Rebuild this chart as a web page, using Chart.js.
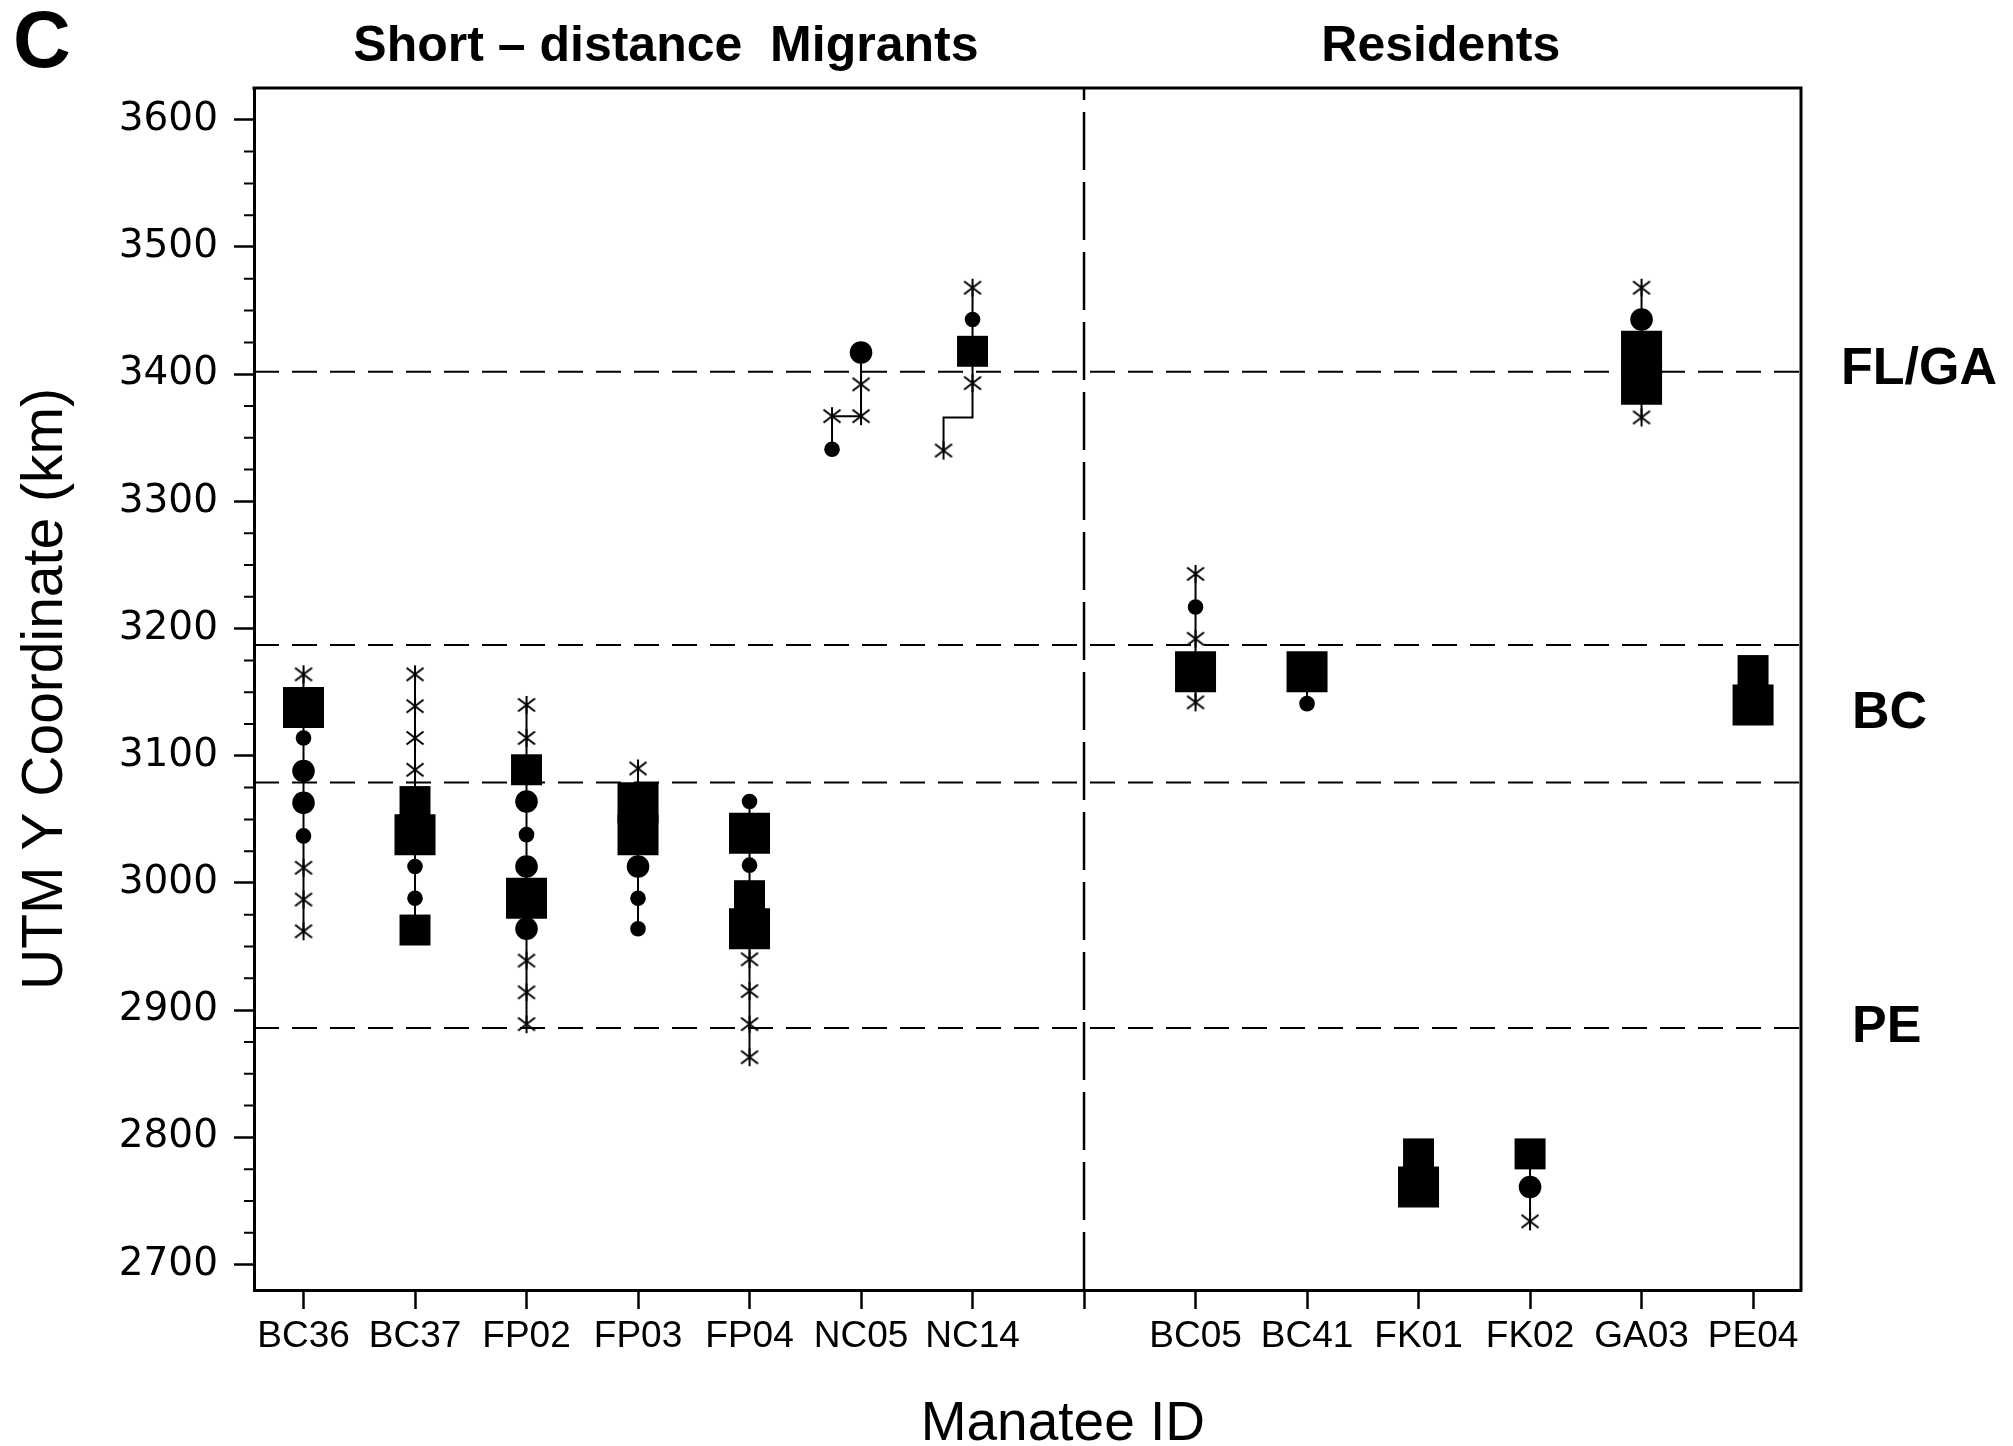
<!DOCTYPE html>
<html lang="en">
<head>
<meta charset="utf-8">
<title>UTM Y coordinate by manatee</title>
<script src="https://cdn.jsdelivr.net/npm/chart.js@4.4.1/dist/chart.umd.min.js"></script>
<style>
  html, body { margin: 0; padding: 0; background: #fff; }
  #wrap { width: 2013px; height: 1446px; }
</style>
</head>
<body>
<div id="wrap"><canvas id="utm" width="2013" height="1446"></canvas></div>
<script>
// slot 7 is left empty: it is where the two groups are split
var ids = ['BC36', 'BC37', 'FP02', 'FP03', 'FP04', 'NC05', 'NC14', '',
           'BC05', 'BC41', 'FK01', 'FK02', 'GA03', 'PE04'];
var yTicks = [2700, 2800, 2900, 3000, 3100, 3200, 3300, 3400, 3500, 3600];
var groups = ['Short \u2013 distance  Migrants', 'Residents'];

// [slot, UTM Y in km]
var stars = [
  [0, 3164], [0, 3012], [0, 2987], [0, 2962],
  [1, 3164], [1, 3139], [1, 3114], [1, 3089],
  [2, 3140], [2, 3114], [2, 2939], [2, 2914], [2, 2889],
  [3, 3090],
  [4, 2940], [4, 2915], [4, 2889], [4, 2863],
  [5, 3392], [5, 3367], [4.74, 3367],
  [6, 3468], [6, 3393], [5.74, 3340],
  [8, 3243], [8, 3192], [8, 3142],
  [11, 2734],
  [12, 3468], [12, 3366]
];
var smallDots = [
  [0, 3114], [0, 3037], [1, 3013], [1, 2988], [2, 3038], [3, 2988], [3, 2964],
  [4, 3064], [4, 3014], [4.74, 3341], [6, 3443], [8, 3217], [9, 3141]
];
var bigDots = [
  [0, 3088], [0, 3063], [2, 3064], [2, 3013], [2, 2964], [3, 3013],
  [5, 3417], [11, 2761], [12, 3443]
];
var smallBoxes = [
  [1, 3064], [1, 2963], [2, 3089], [4, 2990], [6, 3418], [10, 2787], [11, 2787], [13, 3167]
];
var bigBoxes = [
  [0, 3138], [1, 3038], [2, 2988], [3, 3063], [3, 3038], [4, 3039], [4, 2964],
  [8, 3166], [9, 3166], [10, 2761], [12, 3418], [12, 3392], [13, 3140]
];
// corners of the NC14 track that carry no symbol
var bends = [[6, 3366], [5.74, 3366]];

// region boundaries (km) and their names
var zones = [3402, 3187, 3079, 2886];
var zoneNames = ['FL/GA', 'BC', 'PE'];

var X_MIN = -0.444, X_MAX = 13.43, Y_MIN = 2680, Y_MAX = 3625;

function pts(list) {
  return list.map(function (p) { return { x: p[0], y: p[1] }; });
}

// asterisk: an X with a vertical bar through it
function asterisk() {
  var c = document.createElement('canvas');
  c.width = 20; c.height = 20;
  var g = c.getContext('2d');
  g.strokeStyle = '#000';
  g.lineWidth = 2;
  g.beginPath();
  g.moveTo(1.5, 3.5); g.lineTo(18.5, 16.5);
  g.moveTo(1.5, 16.5); g.lineTo(18.5, 3.5);
  g.moveTo(10, 1); g.lineTo(10, 19);
  g.stroke();
  return c;
}

// one connecting track per animal, top to bottom
var allPts = stars.concat(smallDots, bigDots, smallBoxes, bigBoxes, bends);
var tracks = ids.map(function (id, slot) {
  return allPts.filter(function (p) { return Math.round(p[0]) === slot; })
    .sort(function (a, b) { return b[1] - a[1] || b[0] - a[0]; });
}).filter(function (t) { return t.length > 1; });

var datasets = [];

function marks(list, style, r) {
  datasets.push({
    data: pts(list), order: 0, showLine: false,
    pointStyle: style, pointRadius: r, pointHoverRadius: r,
    pointBackgroundColor: '#000', pointBorderWidth: 0
  });
}
marks(bigBoxes, 'rect', 29);
marks(smallBoxes, 'rect', 21.9);
marks(bigDots, 'circle', 11.3);
marks(smallDots, 'circle', 7.8);
marks(stars, asterisk(), 9);

tracks.forEach(function (t) {
  datasets.push({
    data: pts(t), order: 1, showLine: true, pointRadius: 0,
    borderColor: '#000', borderWidth: 2
  });
});

zones.forEach(function (v) {
  datasets.push({
    data: [{ x: X_MIN, y: v }, { x: X_MAX, y: v }], order: 2, showLine: true,
    pointRadius: 0, borderColor: '#000', borderWidth: 2, borderDash: [25, 13]
  });
});

// divider between migrants and residents
datasets.push({
  data: [{ x: 7, y: Y_MIN }, { x: 7, y: Y_MAX }], order: 2, showLine: true,
  pointRadius: 0, borderColor: '#000', borderWidth: 2.5, borderDash: [58, 12]
});

var decor = {
  id: 'decor',
  afterDraw: function (chart) {
    var ctx = chart.ctx, a = chart.chartArea;
    var xs = chart.scales.x, ys = chart.scales.y;
    ctx.save();
    ctx.strokeStyle = '#000';
    ctx.fillStyle = '#000';

    // close the frame
    ctx.lineWidth = 3;
    ctx.beginPath();
    ctx.moveTo(a.left - 1.5, a.top);
    ctx.lineTo(a.right, a.top);
    ctx.lineTo(a.right, a.bottom + 1.5);
    ctx.stroke();

    // minor ticks every 25 km
    ctx.lineWidth = 2;
    ctx.beginPath();
    for (var v = yTicks[0] + 25; v < yTicks[yTicks.length - 1]; v += 25) {
      if (v % 100 === 0) continue;
      var py = ys.getPixelForValue(v);
      ctx.moveTo(a.left - 10, py);
      ctx.lineTo(a.left, py);
    }
    ctx.stroke();

    ctx.textBaseline = 'alphabetic';
    ctx.textAlign = 'left';
    ctx.font = 'bold 80px "Liberation Sans", Arial, sans-serif';
    ctx.fillText('C', 13, 67);

    ctx.textAlign = 'center';
    ctx.font = 'bold 50px "Liberation Sans", Arial, sans-serif';
    ctx.fillText(groups[0], xs.getPixelForValue(3.25), 61);
    ctx.fillText(groups[1], xs.getPixelForValue(10.2), 61);

    ctx.font = '55px "Liberation Sans", Arial, sans-serif';
    ctx.fillText('Manatee ID', xs.getPixelForValue(6.81), 1440);

    ctx.textAlign = 'left';
    ctx.textBaseline = 'middle';
    ctx.font = 'bold 52px "Liberation Sans", Arial, sans-serif';
    ctx.fillText(zoneNames[0], a.right + 40, ys.getPixelForValue(zones[0]) - 2);
    ctx.fillText(zoneNames[1], a.right + 51, ys.getPixelForValue((zones[1] + zones[2]) / 2));
    ctx.fillText(zoneNames[2], a.right + 51, ys.getPixelForValue(zones[3]));
    ctx.restore();
  }
};

new Chart(document.getElementById('utm'), {
  type: 'scatter',
  data: { datasets: datasets },
  plugins: [decor],
  options: {
    responsive: false,
    animation: false,
    events: [],
    layout: { padding: { top: 88, right: 212, left: 0, bottom: 0 } },
    plugins: { legend: { display: false }, tooltip: { enabled: false } },
    scales: {
      x: {
        type: 'linear', min: X_MIN, max: X_MAX,
        afterFit: function (s) { s.height = 156; },
        afterBuildTicks: function (s) {
          s.ticks = ids.map(function (id, i) { return { value: i }; });
        },
        ticks: {
          autoSkip: false, maxRotation: 0, padding: 6, color: '#000',
          font: { family: '"Liberation Sans", Arial, sans-serif', size: 37 },
          callback: function (v) { return ids[v] || ''; }
        },
        grid: {
          drawOnChartArea: false, drawTicks: true, tickLength: 19,
          tickColor: '#000', tickWidth: 2.5
        },
        border: { display: true, color: '#000', width: 3 }
      },
      y: {
        type: 'linear', min: Y_MIN, max: Y_MAX,
        afterFit: function (s) { s.width = 254; },
        afterBuildTicks: function (s) {
          s.ticks = yTicks.map(function (v) { return { value: v }; });
        },
        ticks: {
          padding: 16, color: '#000',
          font: { family: '"DejaVu Sans", sans-serif', size: 39 },
          callback: function (v) { return String(v); }
        },
        grid: {
          drawOnChartArea: false, drawTicks: true, tickLength: 20,
          tickColor: '#000', tickWidth: 2.5
        },
        border: { display: true, color: '#000', width: 3 },
        title: {
          display: true, text: 'UTM Y Coordinate (km)', color: '#000',
          font: { family: '"Liberation Sans", Arial, sans-serif', size: 57 },
          padding: { top: 12, bottom: 0 }
        }
      }
    }
  }
});
</script>
</body>
</html>
